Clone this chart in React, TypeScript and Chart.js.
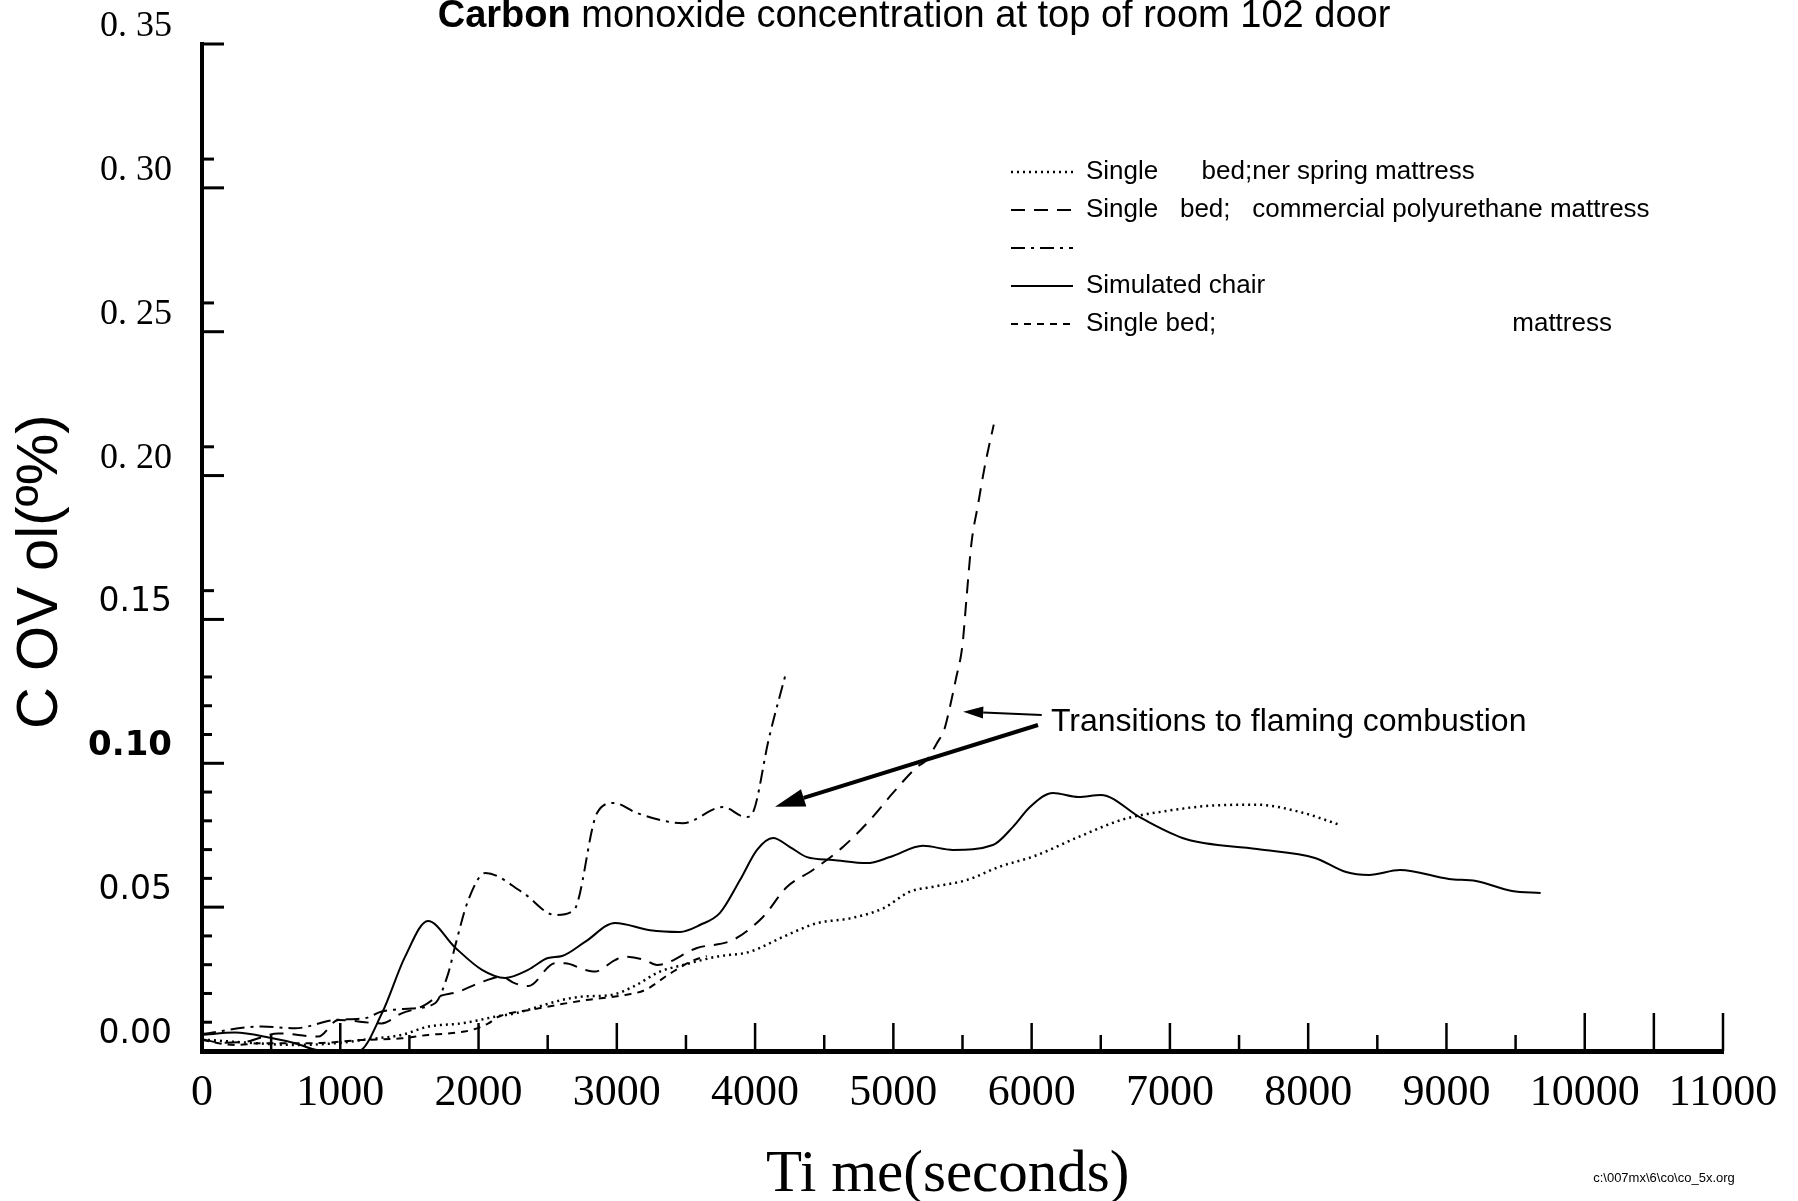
import { useEffect, useRef } from "react";
import { Chart, registerables } from "chart.js";

Chart.register(...registerables);

// ---- axis ticks ----
const xTickValues = [0, 1000, 2000, 3000, 4000, 5000, 6000, 7000, 8000, 9000, 10000, 11000];
const yTickValues = [0, 0.05, 0.1, 0.15, 0.2, 0.25, 0.3, 0.35];
const xMinorStep = 500;
const yMinorStep = 0.01;
const yMinorLimit = 0.13;
const yExtraTicks = [0.16, 0.21, 0.26, 0.31];

// ---- series: Single bed; inner spring mattress (dotted) ----
const springTime = [0, 300, 673, 962, 1203, 1444, 1637, 1878, 2119, 2264, 2601, 2746, 2963, 3120, 3312, 3481, 3722, 3963, 4204, 4445, 4686, 4927, 5120, 5289, 5530, 5771, 6017, 6339, 6662, 6985, 7308, 7631, 7954, 8228];
const springCO = [0.004, 0.003, 0.0021, 0.0027, 0.0041, 0.0056, 0.0085, 0.0096, 0.0119, 0.0131, 0.0177, 0.0189, 0.0195, 0.0224, 0.0276, 0.0299, 0.0328, 0.0345, 0.0397, 0.0444, 0.0461, 0.0496, 0.0554, 0.0571, 0.0594, 0.0641, 0.0677, 0.0744, 0.0805, 0.0835, 0.0853, 0.0856, 0.0829, 0.0786];

// ---- series: Single bed; commercial polyurethane mattress (long dashes) ----
const polyTime = [0, 142, 311, 552, 841, 986, 1299, 1444, 1589, 1709, 1854, 1998, 2167, 2264, 2360, 2553, 2625, 2770, 2842, 2987, 3059, 3204, 3290, 3580, 3840, 4057, 4230, 4418, 4635, 4831, 4997, 5170, 5240, 5315, 5370, 5409, 5451, 5500, 5530, 5565, 5612, 5661, 5726];
const polyCO = [0.0041, 0.0029, 0.0032, 0.0061, 0.005, 0.0108, 0.0096, 0.0131, 0.0154, 0.0189, 0.0206, 0.0235, 0.0258, 0.0235, 0.0226, 0.0305, 0.0305, 0.0282, 0.0276, 0.0316, 0.0328, 0.0316, 0.0299, 0.0358, 0.0386, 0.0466, 0.057, 0.0629, 0.0709, 0.0803, 0.0897, 0.0987, 0.1011, 0.107, 0.112, 0.1196, 0.129, 0.1412, 0.158, 0.1766, 0.1898, 0.2032, 0.2177];

// ---- series: unlabelled (dash-dot) ----
const dashDotTime = [0, 432, 673, 962, 1179, 1299, 1516, 1685, 1781, 1830, 1926, 2050, 2321, 2553, 2690, 2857, 2980, 3146, 3478, 3768, 3934, 3992, 4097, 4221];
const dashDotCO = [0.0059, 0.0085, 0.0079, 0.0108, 0.0114, 0.0137, 0.0148, 0.0166, 0.027, 0.0363, 0.0525, 0.0619, 0.055, 0.0473, 0.049, 0.0827, 0.0862, 0.0827, 0.0792, 0.0848, 0.0813, 0.0838, 0.108, 0.131];

// ---- series: Simulated chair (solid) ----
const chairTime = [0, 239, 500, 673, 841, 1000, 1130, 1302, 1468, 1634, 1830, 2025, 2191, 2358, 2502, 2604, 2770, 2987, 3240, 3457, 3601, 3746, 3891, 4014, 4130, 4252, 4375, 4563, 4809, 4976, 5214, 5431, 5720, 5865, 5988, 6154, 6340, 6500, 6791, 7114, 7630, 8049, 8274, 8440, 8664, 9018, 9214, 9474, 9681];
const chairCO = [0.0056, 0.0064, 0.0045, 0.0027, 0.0003, 0, 0, 0.0132, 0.0327, 0.0452, 0.036, 0.0282, 0.0254, 0.0282, 0.0323, 0.033, 0.0379, 0.0445, 0.042, 0.0414, 0.0438, 0.048, 0.0594, 0.0699, 0.074, 0.0709, 0.0674, 0.0664, 0.0653, 0.0674, 0.0713, 0.0699, 0.0716, 0.0779, 0.0848, 0.0897, 0.0883, 0.089, 0.081, 0.0737, 0.0702, 0.0671, 0.0622, 0.0612, 0.0629, 0.0598, 0.0591, 0.0556, 0.0549];

// ---- series: Single bed; ... mattress (short dashes) ----
const bedTime = [0, 239, 432, 793, 1155, 1444, 1637, 1781, 1950, 2071, 2143, 2400, 2750, 3059, 3204, 3384, 3553, 3650];
const bedCO = [0.0038, 0.0021, 0.0027, 0.0027, 0.0038, 0.0044, 0.0056, 0.0061, 0.0073, 0.0096, 0.0119, 0.0145, 0.0175, 0.0195, 0.0212, 0.0269, 0.0315, 0.033];

// ---- texts ----
const legendLabels = [
  "Single      bed;ner spring mattress",
  "Single   bed;   commercial polyurethane mattress",
  "",
  "Simulated chair",
  "Single bed;                                         mattress",
];
const titleBold = "Carbon";
const titleRest = " monoxide concentration at top of room 102 door";
const xTitle = "Ti me(seconds)  ";
const yTitle = "C OV ol(º%)   ";
const noteText = "Transitions to flaming combustion";
const fileTag = "c:\\007mx\\6\\co\\co_5x.org";

// annotation anchors in data units [time, CO]
const noteAt = [6140, 0.1144];
const arrowThinFrom = [6073, 0.1168];
const arrowThinTo = [5505, 0.1179];
const arrowThickFrom = [6046, 0.1133];
const arrowThickTo = [4144, 0.0849];

const pts = (t: number[], v: number[]) => t.map((x, i) => ({ x, y: v[i] }));

const LEGEND_FONT = 26;
const LEGEND_PAD = 12;

const decorPlugin = {
  id: "decor",
  afterLayout(chart: any) {
    const lg = chart.legend;
    if (!lg) return;
    const w = lg.width;
    const h = lg.height;
    lg.left = 1011 - LEGEND_PAD;
    lg.top = 172 - LEGEND_FONT / 2 - LEGEND_PAD;
    lg.right = lg.left + w;
    lg.bottom = lg.top + h;
  },
  afterDraw(chart: any) {
    const ctx = chart.ctx as CanvasRenderingContext2D;
    const xs = chart.scales.x;
    const ys = chart.scales.y;
    ctx.save();
    ctx.strokeStyle = "#000";
    ctx.fillStyle = "#000";
    ctx.lineCap = "butt";

    const yTick = (v: number, len: number) => {
      const py = ys.getPixelForValue(v);
      ctx.lineWidth = 3;
      ctx.beginPath();
      ctx.moveTo(xs.left, py);
      ctx.lineTo(xs.left + len, py);
      ctx.stroke();
    };
    // inside y ticks
    const nY = Math.round(ys.max / yMinorStep);
    for (let i = 0; i <= nY; i++) {
      const v = i * yMinorStep;
      const major = i % 5 === 0;
      if (!major && v > yMinorLimit) continue;
      yTick(v, major ? 22 : 10);
    }
    yExtraTicks.forEach((v) => yTick(v, 12));
    // inside x ticks
    const nX = Math.round(xs.max / xMinorStep);
    for (let i = 1; i <= nX; i++) {
      const v = i * xMinorStep;
      const major = i % 2 === 0;
      const px = xs.getPixelForValue(v);
      ctx.lineWidth = 2.5;
      ctx.beginPath();
      ctx.moveTo(px, ys.bottom);
      ctx.lineTo(px, ys.bottom - (v >= 10000 ? 38 : major ? 28 : 16));
      ctx.stroke();
    }

    // arrows
    const arrow = (from: number[], to: number[], lw: number, hl: number, hw: number) => {
      const x1 = xs.getPixelForValue(from[0]);
      const y1 = ys.getPixelForValue(from[1]);
      const x2 = xs.getPixelForValue(to[0]);
      const y2 = ys.getPixelForValue(to[1]);
      const a = Math.atan2(y2 - y1, x2 - x1);
      const bx = x2 - hl * Math.cos(a);
      const by = y2 - hl * Math.sin(a);
      ctx.lineWidth = lw;
      ctx.beginPath();
      ctx.moveTo(x1, y1);
      ctx.lineTo(bx, by);
      ctx.stroke();
      ctx.beginPath();
      ctx.moveTo(x2, y2);
      ctx.lineTo(bx + hw * Math.sin(a), by - hw * Math.cos(a));
      ctx.lineTo(bx - hw * Math.sin(a), by + hw * Math.cos(a));
      ctx.closePath();
      ctx.fill();
    };
    arrow(arrowThinFrom, arrowThinTo, 2, 20, 6);
    arrow(arrowThickFrom, arrowThickTo, 4, 30, 9);

    ctx.font = '32px "Liberation Sans"';
    ctx.textBaseline = "middle";
    ctx.textAlign = "left";
    ctx.fillText(noteText, xs.getPixelForValue(noteAt[0]), ys.getPixelForValue(noteAt[1]));

    // title
    const fb = 'bold 38px "Liberation Sans"';
    const fn = '38px "Liberation Sans"';
    ctx.font = fb;
    const wb = ctx.measureText(titleBold).width;
    ctx.font = fn;
    const wn = ctx.measureText(titleRest).width;
    const sx = 914 - (wb + wn) / 2;
    ctx.font = fb;
    ctx.fillText(titleBold, sx, 17);
    ctx.font = fn;
    ctx.fillText(titleRest, sx + wb, 17);

    // file tag
    ctx.font = '13px "Liberation Sans"';
    ctx.textAlign = "center";
    ctx.fillText(fileTag, 1664, 1178);
    ctx.restore();
  },
};

export default function App() {
  const ref = useRef<HTMLCanvasElement>(null);
  useEffect(() => {
    document.body.style.margin = "0";
    document.body.style.overflow = "hidden";
    const canvas = ref.current;
    if (!canvas) return;
    const black = "#000";
    const chart = new Chart(canvas, {
      type: "line",
      data: {
        datasets: [
          { label: legendLabels[0], data: pts(springTime, springCO), borderColor: black, borderWidth: 2.5, borderDash: [2, 4] },
          { label: legendLabels[1], data: pts(polyTime, polyCO), borderColor: black, borderWidth: 2, borderDash: [14, 9] },
          { label: legendLabels[2], data: pts(dashDotTime, dashDotCO), borderColor: black, borderWidth: 2, borderDash: [14, 6, 3, 6] },
          { label: legendLabels[3], data: pts(chairTime, chairCO), borderColor: black, borderWidth: 2 },
          { label: legendLabels[4], data: pts(bedTime, bedCO), borderColor: black, borderWidth: 2, borderDash: [7, 6] },
        ],
      },
      options: {
        animation: false,
        responsive: false,
        events: [],
        layout: { padding: { top: 44, right: 75, left: 0, bottom: 0 } },
        elements: {
          point: { radius: 0 },
          line: { cubicInterpolationMode: "monotone", fill: false },
        },
        plugins: {
          tooltip: { enabled: false },
          title: { display: false },
          legend: {
            display: true,
            position: "chartArea",
            align: "start",
            labels: {
              color: black,
              font: { family: "Liberation Sans", size: LEGEND_FONT },
              usePointStyle: true,
              pointStyle: "line",
              pointStyleWidth: 62,
              boxHeight: LEGEND_FONT,
              padding: LEGEND_PAD,
              generateLabels: (c: any) => {
                const items = (Chart as any).defaults.plugins.legend.labels.generateLabels(c);
                return items.map((it: any) => {
                  const ds = c.data.datasets[it.datasetIndex];
                  return { ...it, lineDash: ds.borderDash || [], lineWidth: ds.borderWidth, strokeStyle: ds.borderColor };
                });
              },
            },
          },
        },
        scales: {
          x: {
            type: "linear",
            min: 0,
            max: 11000,
            afterBuildTicks: (s: any) => {
              s.ticks = xTickValues.map((value) => ({ value }));
            },
            afterFit: (s: any) => {
              s.height = 150;
            },
            ticks: {
              color: black,
              autoSkip: false,
              maxRotation: 0,
              padding: 8,
              font: { family: "Liberation Serif", size: 44 },
              callback: (v: any) => String(v),
            },
            grid: { display: false },
            border: { display: true, color: black, width: 5 },
            title: {
              display: true,
              text: xTitle,
              color: black,
              font: { family: "Liberation Serif", size: 59, lineHeight: 1 },
              padding: { top: 0, bottom: -4 },
            },
          },
          y: {
            type: "linear",
            min: 0,
            max: 0.35,
            afterBuildTicks: (s: any) => {
              s.ticks = yTickValues.map((value) => ({ value }));
            },
            afterFit: (s: any) => {
              s.width = 202;
              s.paddingTop = 0;
              s.paddingBottom = 0;
            },
            ticks: {
              color: black,
              autoSkip: false,
              padding: 22,
              labelOffset: -17,
              font: (c: any) => {
                const v = Math.round((c.tick ? c.tick.value : 0) * 100);
                if (v >= 20) return { family: "Liberation Serif", size: 36 };
                if (v === 10) return { family: "DejaVu Sans", size: 34, weight: "bold" };
                return { family: "DejaVu Sans", size: 33 };
              },
              callback: (v: any) => {
                const n = Math.round(Number(v) * 100);
                const s = (n / 100).toFixed(2);
                return n >= 20 ? s.replace(".", ". ") : s;
              },
            },
            grid: { display: false },
            border: { display: true, color: black, width: 4 },
            title: {
              display: true,
              text: yTitle,
              color: black,
              font: { family: "Liberation Sans", size: 58, lineHeight: 1.2 },
              padding: { top: 6, bottom: 0 },
            },
          },
        },
      },
      plugins: [decorPlugin],
    } as any);
    return () => chart.destroy();
  }, []);
  return (
    <div style={{ width: 1798, height: 1201 }}>
      <canvas ref={ref} width={1798} height={1201} style={{ display: "block" }} />
    </div>
  );
}
